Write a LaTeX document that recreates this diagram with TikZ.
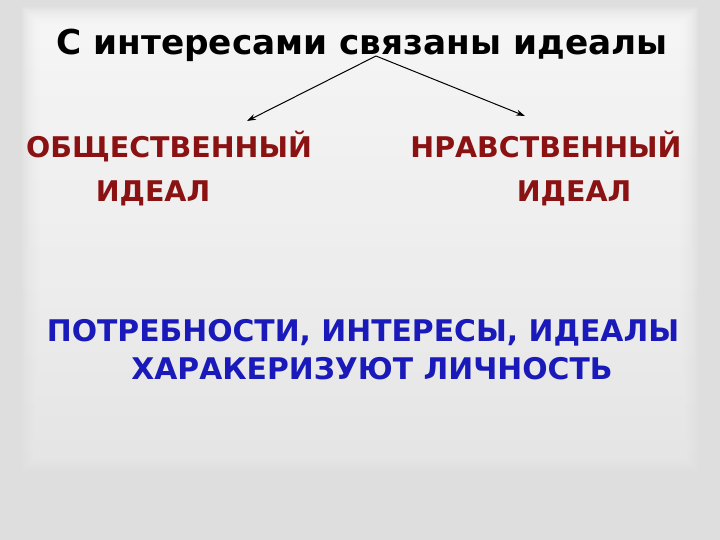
\documentclass[tikz,border=0pt]{standalone}
\usepackage{fontspec}
\setmainfont{DejaVu Sans}
\usepackage{xcolor}
\usetikzlibrary{arrows.meta}

\definecolor{idealred}{RGB}{139,18,18}
\definecolor{idealblue}{RGB}{26,26,186}

\begin{document}
\begin{tikzpicture}[x=1pt, y=-1pt,
    headline/.style={anchor=base, inner sep=0pt, font=\bfseries\fontsize{34.3}{40}\selectfont},
    redlbl/.style={anchor=base, inner sep=0pt, text=idealred, font=\bfseries\fontsize{28.5}{34}\selectfont},
    bluelbl/.style={anchor=base, inner sep=0pt, text=idealblue, font=\bfseries\fontsize{29.8}{35}\selectfont},
    branch/.style={line width=1pt, -{Stealth[length=9pt, width=6pt]}}]

    % Slide background
    \useasboundingbox (0,0) rectangle (720,540);
    \fill[black!13] (0,0) rectangle (720,540);
    \foreach \s in {0,2,...,18}
        \shade[top color=white, bottom color=black!8, opacity=0.15]
            (22+\s,8+\s) rectangle (698-\s,470-\s);

    % Title
    \node[headline] (title) at (362,55) {С интересами связаны идеалы};

    \coordinate (fork) at (376,56);
    \coordinate (tipL) at (247,121);
    \coordinate (tipR) at (525,116);

    % Two kinds of ideal
    \node[redlbl] (socialA) at (169,158) {ОБЩЕСТВЕННЫЙ};
    \node[redlbl] (socialB) at (153,202) {ИДЕАЛ};

    \node[redlbl] (moralA) at (546,158) {НРАВСТВЕННЫЙ};
    \node[redlbl] (moralB) at (574,202) {ИДЕАЛ};

    % Conclusion
    \node[bluelbl] (personA) at (363,341) {ПОТРЕБНОСТИ, ИНТЕРЕСЫ, ИДЕАЛЫ};
    \node[bluelbl] (personB) at (372,379) {ХАРАКЕРИЗУЮТ ЛИЧНОСТЬ};

    \draw[branch] (fork) -- (tipL);
    \draw[branch] (fork) -- (tipR);

\end{tikzpicture}
\end{document}
